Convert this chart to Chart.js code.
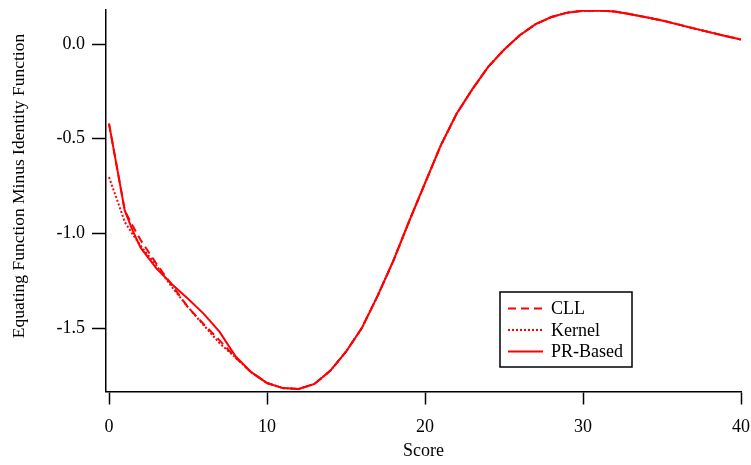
<!DOCTYPE html>
<html>
<head>
<meta charset="utf-8">
<script src="https://cdn.jsdelivr.net/npm/chart.js@4/dist/chart.umd.min.js"></script>
<style>
  body { margin: 0; background: #fff; }
  #wrap { width: 751px; height: 465px; }
</style>
</head>
<body>
<div id="wrap"><canvas id="c"></canvas></div>
<script>
var scores = [0, 0.5, 1, 1.5, 2, 3, 4, 5, 6, 7, 8, 9, 10, 11, 12, 13, 14, 15, 16, 17, 18, 19, 20,
              21, 22, 23, 24, 25, 26, 27, 28, 29, 30, 31, 32, 33, 34, 35, 36, 37, 38, 39, 40];

var cll = [-0.42, -0.65, -0.88, -0.96, -1.035, -1.16, -1.275, -1.39, -1.48, -1.565, -1.655, -1.733,
           -1.79, -1.817, -1.822, -1.795, -1.726, -1.625, -1.5, -1.33, -1.144, -0.935, -0.735,
           -0.535, -0.368, -0.238, -0.12, -0.03, 0.047, 0.105, 0.143, 0.166, 0.176, 0.178, 0.172,
           0.158, 0.142, 0.125, 0.104, 0.083, 0.063, 0.043, 0.024];

var kernel = [-0.703, -0.82, -0.94, -1.005, -1.065, -1.17, -1.285, -1.39, -1.485, -1.58, -1.655, -1.733,
              -1.79, -1.817, -1.822, -1.795, -1.726, -1.625, -1.5, -1.33, -1.144, -0.935, -0.735,
              -0.535, -0.368, -0.238, -0.12, -0.03, 0.047, 0.105, 0.143, 0.166, 0.176, 0.178, 0.172,
              0.158, 0.142, 0.125, 0.104, 0.083, 0.063, 0.043, 0.024];

var prBased = [-0.42, -0.65, -0.88, -0.985, -1.075, -1.185, -1.27, -1.345, -1.425, -1.52, -1.648, -1.733,
               -1.79, -1.817, -1.822, -1.795, -1.726, -1.625, -1.5, -1.33, -1.144, -0.935, -0.735,
               -0.535, -0.368, -0.238, -0.12, -0.03, 0.047, 0.105, 0.143, 0.166, 0.176, 0.178, 0.172,
               0.158, 0.142, 0.125, 0.104, 0.083, 0.063, 0.043, 0.024];

var xTicks = [0, 10, 20, 30, 40];
var yTicks = [0.0, -0.5, -1.0, -1.5];

var yTitle = 'Equating Function Minus Identity Function';

var serif = '"Liberation Serif", "Times New Roman", serif';

function pts(ys) {
    return scores.map(function (s, i) { return {x: s, y: ys[i]}; });
}

// legend drawn inside the plot, like the original
var boxLegend = {
    id: 'boxLegend',
    afterDatasetsDraw: function (chart) {
        var ctx = chart.ctx;
        ctx.save();
        ctx.fillStyle = '#fff';
        ctx.fillRect(500, 292, 132, 75);
        ctx.strokeStyle = '#000';
        ctx.lineWidth = 1.5;
        ctx.strokeRect(500, 292, 132, 75);
        chart.data.datasets.forEach(function (ds, i) {
            var y = 308.5 + i * 21.5;
            ctx.beginPath();
            ctx.setLineDash(ds.borderDash || []);
            ctx.strokeStyle = ds.borderColor;
            ctx.lineWidth = ds.borderWidth;
            ctx.moveTo(508, y);
            ctx.lineTo(543, y);
            ctx.stroke();
            ctx.setLineDash([]);
            ctx.fillStyle = '#000';
            ctx.font = '18px ' + serif;
            ctx.textBaseline = 'middle';
            ctx.fillText(ds.label, 551, y + 1);
        });
        ctx.restore();
    }
};

// y title sits a bit above the middle of the axis in the original
var sideTitle = {
    id: 'sideTitle',
    afterDraw: function (chart) {
        var ctx = chart.ctx;
        ctx.save();
        ctx.translate(19, 186);
        ctx.rotate(-Math.PI / 2);
        ctx.fillStyle = '#000';
        ctx.font = '17.5px ' + serif;
        ctx.textAlign = 'center';
        ctx.textBaseline = 'middle';
        ctx.fillText(yTitle, 0, 0);
        ctx.restore();
    }
};

var chart = new Chart(document.getElementById('c'), {
    type: 'line',
    data: {
        datasets: [
            {label: 'CLL', data: pts(cll), borderColor: '#ff0000', borderWidth: 2, borderDash: [8, 5]},
            {label: 'Kernel', data: pts(kernel), borderColor: '#ff0000', borderWidth: 2, borderDash: [2, 2]},
            {label: 'PR-Based', data: pts(prBased), borderColor: '#ff0000', borderWidth: 2}
        ]
    },
    options: {
        responsive: true,
        maintainAspectRatio: false,
        animation: false,
        elements: {point: {radius: 0}, line: {tension: 0, fill: false}},
        layout: {padding: {top: 10, right: 10, left: 0, bottom: 0}},
        plugins: {legend: {display: false}, tooltip: {enabled: false}},
        scales: {
            x: {
                type: 'linear',
                min: -0.19,
                max: 40,
                afterFit: function (s) {
                    s.height = 73.5;
                    s.paddingLeft = 0;
                    s.paddingRight = 0;
                },
                afterBuildTicks: function (s) { s.ticks = xTicks.map(function (v) { return {value: v}; }); },
                ticks: {
                    font: {family: serif, size: 18},
                    color: '#000',
                    padding: 12,
                    maxRotation: 0
                },
                grid: {drawOnChartArea: false, tickLength: 13, tickColor: '#000', tickWidth: 1.5},
                border: {color: '#000', width: 1.5},
                title: {display: true, text: 'Score', color: '#000',
                        font: {family: serif, size: 18}, padding: {top: 0, bottom: 3}}
            },
            y: {
                min: -1.835,
                max: 0.18,
                afterFit: function (s) {
                    s.width = 106;
                    s.paddingTop = 0;
                    s.paddingBottom = 0;
                },
                afterBuildTicks: function (s) { s.ticks = yTicks.map(function (v) { return {value: v}; }); },
                ticks: {
                    font: {family: serif, size: 18},
                    color: '#000',
                    padding: 7,
                    callback: function (v) { return v.toFixed(1); }
                },
                grid: {drawOnChartArea: false, tickLength: 14, tickColor: '#000', tickWidth: 1.5},
                border: {color: '#000', width: 1.5}
            }
        }
    },
    plugins: [boxLegend, sideTitle]
});
</script>
</body>
</html>
